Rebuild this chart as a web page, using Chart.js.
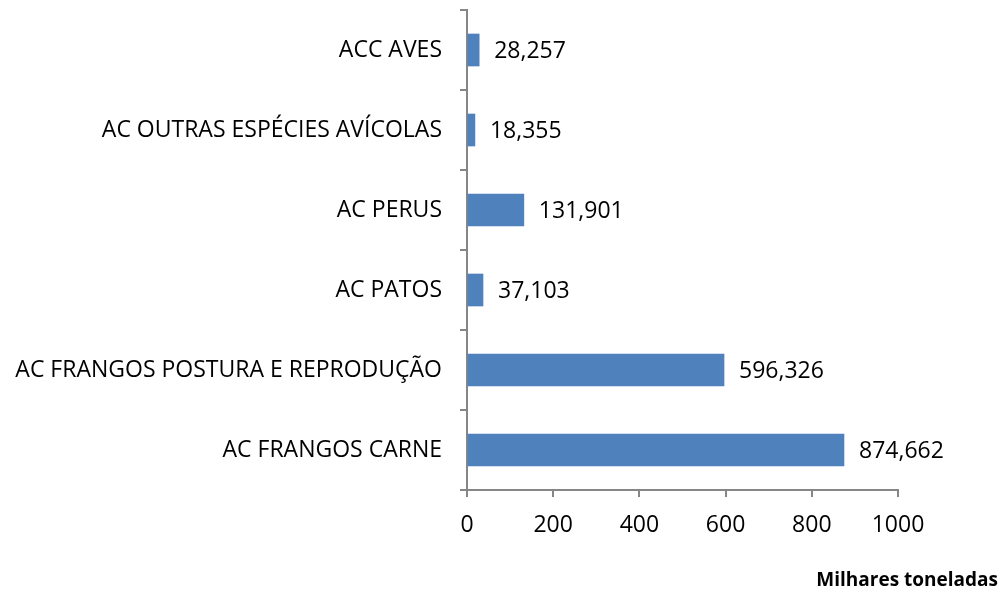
<!DOCTYPE html>
<html>
<head>
<meta charset="utf-8">
<script src="https://cdn.jsdelivr.net/npm/chart.js@4"></script>
<style>
  html, body { margin: 0; padding: 0; background: #fff; }
  #wrap { width: 1004px; height: 594px; position: relative; }
</style>
</head>
<body>
<div id="wrap"><canvas id="avesChart"></canvas></div>
<script>
// categories, top to bottom
const categories = ['ACC AVES', 'AC OUTRAS ESPÉCIES AVÍCOLAS', 'AC PERUS', 'AC PATOS',
    'AC FRANGOS POSTURA E REPRODUÇÃO', 'AC FRANGOS CARNE'];
const values = [28.257, 18.355, 131.901, 37.103, 596.326, 874.662];
const xTicks = [0, 200, 400, 600, 800, 1000];
const unitLabel = 'Milhares toneladas';

const FONT = 'Open Sans';

// value labels + unit text
const labelsPlugin = {
    id: 'labelsPlugin',
    afterDatasetsDraw(chart) {
        const ctx = chart.ctx;
        const meta = chart.getDatasetMeta(0);
        ctx.save();
        ctx.font = '23px "' + FONT + '"';
        ctx.fillStyle = '#000';
        ctx.textBaseline = 'middle';
        ctx.textAlign = 'left';
        meta.data.forEach(function (bar, i) {
            const txt = values[i].toFixed(3).replace('.', ',');
            ctx.fillText(txt, bar.x + 15, bar.y + 1);
        });
        ctx.font = 'bold 19px "' + FONT + '"';
        ctx.textAlign = 'right';
        ctx.fillText(unitLabel, 998, 581);
        ctx.restore();
    }
};

new Chart(document.getElementById('avesChart'), {
    type: 'bar',
    data: {
        labels: categories,
        datasets: [{
            data: values,
            backgroundColor: '#4f81bd',
            barThickness: 32
        }]
    },
    options: {
        indexAxis: 'y',
        responsive: true,
        maintainAspectRatio: false,
        animation: false,
        layout: { padding: { top: 10, right: 106, left: 0, bottom: 0 } },
        plugins: {
            legend: { display: false },
            tooltip: { enabled: false }
        },
        scales: {
            x: {
                min: 0,
                max: 1000,
                afterBuildTicks(scale) {
                    scale.ticks = xTicks.map(v => ({ value: v }));
                },
                afterFit(scale) { scale.height = 104; },
                grid: { drawOnChartArea: false, drawTicks: true, tickLength: 7, color: '#868686', lineWidth: 2 },
                border: { color: '#868686', width: 2 },
                ticks: {
                    color: '#000', font: { family: FONT, size: 23 }, padding: 15,
                    callback: v => String(v)
                }
            },
            y: {
                afterFit(scale) {
                    scale.width = 467;
                    scale.paddingTop = 0;
                    scale.paddingBottom = 0;
                },
                grid: { drawOnChartArea: false, drawTicks: true, tickLength: 7, offset: true, color: '#868686', lineWidth: 2 },
                border: { color: '#868686', width: 2 },
                ticks: { color: '#000', font: { family: FONT, size: 23 }, padding: 18 }
            }
        }
    },
    plugins: [labelsPlugin]
});
</script>
</body>
</html>
